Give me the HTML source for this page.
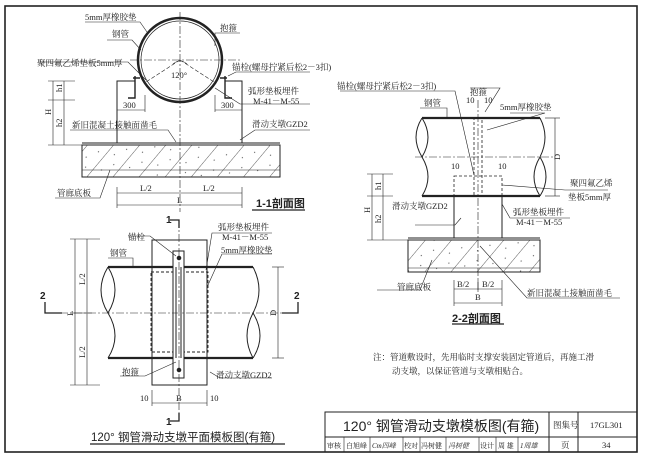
<!DOCTYPE html>
<html><head><meta charset="utf-8"><style>
html,body{margin:0;padding:0;background:#fff}
svg{display:block}
text{font-family:"Liberation Serif","Noto Serif CJK SC","Noto Sans CJK SC",serif;fill:#222}
.s{font-size:8.5px}
.t{font-family:"Liberation Sans","Noto Sans CJK SC",sans-serif;font-weight:bold}
.ti{font-family:"Liberation Sans","Noto Sans CJK SC",sans-serif}
</style></head><body>
<svg width="647" height="458" viewBox="0 0 647 458" xmlns="http://www.w3.org/2000/svg">
<defs>
<pattern id="h" width="20" height="20" patternUnits="userSpaceOnUse" patternTransform="rotate(40)">
<line x1="0" y1="0" x2="0" y2="20" stroke="#333" stroke-width="0.8"/>
<circle cx="7" cy="5" r="0.6" fill="#555"/><circle cx="13" cy="13" r="0.6" fill="#555"/>
</pattern>
</defs>
<g fill="none" stroke="#222" stroke-width="1">
<rect x="5" y="6" width="632" height="446" stroke-width="1.6"/>
<rect x="325" y="412" width="312" height="40"/>
<line x1="325" y1="437" x2="637" y2="437"/>
<line x1="549" y1="412" x2="549" y2="452"/><line x1="578" y1="412" x2="578" y2="452"/>
<g stroke-width="0.6">
<line x1="344" y1="437" x2="344" y2="452"/><line x1="370" y1="437" x2="370" y2="452"/><line x1="403" y1="437" x2="403" y2="452"/><line x1="420" y1="437" x2="420" y2="452"/><line x1="446" y1="437" x2="446" y2="452"/><line x1="479" y1="437" x2="479" y2="452"/><line x1="496" y1="437" x2="496" y2="452"/><line x1="518" y1="437" x2="518" y2="452"/>
</g>

<rect x="82" y="145" width="198" height="32" fill="url(#h)"/>
<line x1="82" y1="143" x2="280" y2="143"/><line x1="82" y1="170" x2="280" y2="170" stroke-width="0.6"/>
<polyline points="117,143 117,81 135,81"/><polyline points="225,81 242,81 242,143"/>
<circle cx="180" cy="60" r="42" stroke-width="2.5"/>
<circle cx="180" cy="60" r="39" stroke-width="0.7"/>
<line x1="180" y1="12" x2="180" y2="212" stroke-dasharray="8 2 2 2" stroke-width="0.6"/>
<line x1="130" y1="60" x2="240" y2="60" stroke-dasharray="8 2 2 2" stroke-width="0.6"/>
<line x1="180" y1="60" x2="146" y2="82" stroke-dasharray="4 2" stroke-width="0.6"/><line x1="180" y1="60" x2="214" y2="82" stroke-dasharray="4 2" stroke-width="0.6"/>
<path d="M173 64 Q180 58 187 64" stroke-width="0.6"/>
<polyline points="135,76 135,98 128,98" stroke-width="1.4"/><polyline points="225,76 225,98 232,98" stroke-width="1.4"/>
<line x1="133" y1="78" x2="140" y2="78" stroke-width="1.5"/><line x1="220" y1="78" x2="227" y2="78" stroke-width="1.5"/>
<g stroke-width="0.6">
<line x1="117" y1="110" x2="145" y2="110"/><line x1="215" y1="110" x2="242" y2="110"/>
<line x1="145" y1="95" x2="145" y2="112"/><line x1="215" y1="95" x2="215" y2="112"/>
<line x1="53" y1="81" x2="53" y2="145"/><line x1="64" y1="81" x2="64" y2="145"/>
<line x1="48" y1="81" x2="75" y2="81"/><line x1="48" y1="100" x2="75" y2="100"/><line x1="48" y1="145" x2="82" y2="145"/>
<line x1="117" y1="193" x2="242" y2="193"/><line x1="117" y1="205" x2="242" y2="205"/>
<line x1="117" y1="187" x2="117" y2="208"/><line x1="242" y1="187" x2="242" y2="208"/>
<polyline points="85,22 140,22 147,32"/><polyline points="107,40 132,40 141,50"/><polyline points="40,62 128,62 146,80"/>
<polyline points="240,33 215,33 215,46"/><polyline points="310,72 236,72 228,76"/>
<polyline points="310,104 240,104 215,88"/><polyline points="310,130 255,130 240,140"/>
<polyline points="70,130 168,130 176,142"/><polyline points="55,198 100,198 110,170"/>
<polyline points="252,210 305,210" stroke-width="1.2"/>
</g>

<rect x="408" y="240" width="132" height="32" fill="url(#h)"/>
<line x1="408" y1="238" x2="540" y2="238"/><line x1="408" y1="268" x2="540" y2="268" stroke-width="0.6"/>
<polyline points="454,238 454,196"/><polyline points="502,196 502,238"/>
<line x1="422" y1="118" x2="540" y2="118" stroke-width="2.2"/><line x1="422" y1="196" x2="540" y2="196" stroke-width="2.2"/>
<path d="M422 118 Q410 137 422 157 Q434 177 422 196" /><path d="M422 118 Q434 137 422 157"/>
<path d="M540 118 Q550 137 540 157 Q528 177 540 196"/><path d="M540 157 Q552 177 540 196"/>
<line x1="415" y1="157" x2="555" y2="157" stroke-dasharray="8 2 2 2" stroke-width="0.6"/>
<rect x="474" y="118" width="8" height="78" stroke-dasharray="3 2" stroke-width="0.8"/>
<rect x="454" y="176" width="48" height="20" stroke-dasharray="3 2" stroke-width="0.8"/>
<line x1="478" y1="100" x2="478" y2="290" stroke-dasharray="8 2 2 2" stroke-width="0.6"/>
<g stroke-width="0.6">
<line x1="555" y1="118" x2="555" y2="196"/><line x1="545" y1="118" x2="560" y2="118"/><line x1="545" y1="196" x2="560" y2="196"/>
<line x1="372" y1="174" x2="372" y2="240"/><line x1="383" y1="174" x2="383" y2="240"/>
<line x1="367" y1="174" x2="393" y2="174"/><line x1="367" y1="196" x2="393" y2="196"/><line x1="367" y1="240" x2="408" y2="240"/>
<line x1="454" y1="289" x2="502" y2="289"/><line x1="454" y1="303" x2="502" y2="303"/>
<line x1="454" y1="280" x2="454" y2="306"/><line x1="478" y1="280" x2="478" y2="292"/><line x1="502" y1="280" x2="502" y2="306"/>
<polyline points="340,91 455,91 474,175"/><polyline points="420,108 447,108 447,118"/>
<polyline points="470,88 500,88 485,112"/><polyline points="510,113 545,113 487,130"/>
<polyline points="415,225 455,225 461,218"/><polyline points="608,190 565,190 502,185"/>
<polyline points="570,218 510,218 502,204"/><polyline points="377,290 420,290 432,260"/>
<polyline points="620,298 527,298 480,246"/>
<line x1="452" y1="324" x2="504" y2="324" stroke-width="1.2"/>
</g>

<rect x="152" y="240" width="55" height="145"/>
<line x1="108" y1="267" x2="253" y2="267" stroke-width="2.2"/><line x1="108" y1="358" x2="253" y2="358" stroke-width="2.2"/>
<path d="M108 267 Q94 290 108 313 Q122 336 108 358"/><path d="M108 267 Q122 290 108 313"/>
<path d="M253 267 Q265 290 253 313 Q241 336 253 358"/><path d="M253 313 Q267 336 253 358"/>
<rect x="151" y="272" width="57" height="80" stroke-dasharray="3 2" stroke-width="0.9"/>
<rect x="173" y="251" width="11" height="127" fill="#fff" stroke-width="1"/>
<line x1="176" y1="267" x2="176" y2="358"/><line x1="181" y1="267" x2="181" y2="358"/>
<circle cx="179" cy="258" r="1.8" fill="#222"/><circle cx="179" cy="370" r="1.8" fill="#222"/>
<line x1="179" y1="220" x2="179" y2="418" stroke-dasharray="8 2 2 2" stroke-width="0.6"/>
<line x1="60" y1="313" x2="290" y2="313" stroke-dasharray="8 2 2 2" stroke-width="0.6"/>
<polyline points="170,220 179,220 179,228" stroke-width="1.3"/><polyline points="170,421 179,421 179,413" stroke-width="1.3"/>
<polyline points="45,302 45,313 62,313" stroke-width="1.3"/><polyline points="298,302 298,313 282,313" stroke-width="1.3"/>
<g stroke-width="0.6">
<line x1="75" y1="239" x2="75" y2="385"/><line x1="87" y1="239" x2="87" y2="385"/>
<line x1="70" y1="239" x2="100" y2="239"/><line x1="70" y1="313" x2="92" y2="313"/><line x1="70" y1="385" x2="100" y2="385"/>
<line x1="278" y1="267" x2="278" y2="358"/><line x1="272" y1="267" x2="284" y2="267"/><line x1="272" y1="358" x2="284" y2="358"/>
<line x1="152" y1="403" x2="207" y2="403"/><line x1="152" y1="390" x2="152" y2="406"/><line x1="207" y1="390" x2="207" y2="406"/>
<polyline points="128,236 150,236 176,256"/><polyline points="108,258 133,258 133,267"/>
<polyline points="272,233 212,233 206,270"/><polyline points="272,254 222,254 208,285"/>
<polyline points="120,376 145,376 176,362"/><polyline points="272,378 220,378 210,372"/>
<line x1="90" y1="444" x2="285" y2="444" stroke-width="1.2"/>
</g>
</g>

<text class="s" x="85" y="20">5mm厚橡胶垫</text>
<text class="s" x="112" y="37">钢管</text>
<text class="s" x="37" y="66">聚四氟乙烯垫板5mm厚</text>
<text class="s" x="220" y="31">抱箍</text>
<text class="s" x="232" y="70">锚栓(螺母拧紧后松2－3扣)</text>
<text class="s" x="171" y="78">120°</text>
<text class="s" x="248" y="94">弧形垫板埋件</text>
<text class="s" x="253" y="104">M-41－M-55</text>
<text class="s" x="123" y="108">300</text>
<text class="s" x="221" y="108">300</text>
<text class="s" x="252" y="127">滑动支墩GZD2</text>
<text class="s" x="72" y="128">新旧混凝土接触面凿毛</text>
<text class="s" x="57" y="196">管廊底板</text>
<text class="s" x="140" y="191">L/2</text>
<text class="s" x="203" y="191">L/2</text>
<text class="s" x="177" y="203">L</text>
<text class="s" transform="translate(62,92) rotate(-90)">h1</text>
<text class="s" transform="translate(62,127) rotate(-90)">h2</text>
<text class="s" transform="translate(51,115) rotate(-90)">H</text>
<text class="t" x="256" y="207" font-size="11">1-1剖面图</text>

<text class="s" x="337" y="89">锚栓(螺母拧紧后松2－3扣)</text>
<text class="s" x="470" y="95">抱箍</text>
<text class="s" x="424" y="106">钢管</text>
<text class="s" x="466" y="103">10</text><text class="s" x="484" y="103">10</text>
<text class="s" x="500" y="110">5mm厚橡胶垫</text>
<text class="s" x="451" y="169">10</text><text class="s" x="498" y="169">10</text>
<text class="s" x="570" y="186">聚四氟乙烯</text>
<text class="s" x="568" y="200">垫板5mm厚</text>
<text class="s" x="392" y="209">滑动支墩GZD2</text>
<text class="s" x="513" y="215">弧形垫板埋件</text>
<text class="s" x="516" y="225">M-41－M-55</text>
<text class="s" x="397" y="290">管廊底板</text>
<text class="s" x="457" y="287">B/2</text><text class="s" x="482" y="287">B/2</text>
<text class="s" x="475" y="300">B</text>
<text class="s" x="527" y="296">新旧混凝土接触面凿毛</text>
<text class="s" transform="translate(560,160) rotate(-90)">D</text>
<text class="s" transform="translate(381,190) rotate(-90)">h1</text>
<text class="s" transform="translate(381,223) rotate(-90)">h2</text>
<text class="s" transform="translate(370,213) rotate(-90)">H</text>
<text class="t" x="452" y="322" font-size="11">2-2剖面图</text>

<text class="t" x="166" y="223" font-size="10">1</text>
<text class="t" x="166" y="425" font-size="10">1</text>
<text class="t" x="40" y="299" font-size="10">2</text>
<text class="t" x="294" y="299" font-size="10">2</text>
<text class="s" x="128" y="240">锚栓</text>
<text class="s" x="110" y="256">钢管</text>
<text class="s" x="218" y="230">弧形垫板埋件</text>
<text class="s" x="222" y="240">M-41－M-55</text>
<text class="s" x="221" y="253">5mm厚橡胶垫</text>
<text class="s" x="122" y="375">抱箍</text>
<text class="s" x="216" y="378">滑动支墩GZD2</text>
<text class="s" x="140" y="401">10</text><text class="s" x="176" y="401">B</text><text class="s" x="210" y="401">10</text>
<text class="s" transform="translate(85,285) rotate(-90)">L/2</text>
<text class="s" transform="translate(85,358) rotate(-90)">L/2</text>
<text class="s" transform="translate(73,316) rotate(-90)">L</text>
<text class="s" transform="translate(276,316) rotate(-90)">D</text>
<text class="ti" x="91" y="441" font-size="11.5">120°  钢管滑动支墩平面模板图(有箍)</text>

<text class="s" x="373" y="360">注：管道敷设时，先用临时支撑安装固定管道后，再施工滑</text>
<text class="s" x="392" y="374">动支墩，以保证管道与支墩相贴合。</text>

<text class="ti" x="343" y="431" font-size="14">120°  钢管滑动支墩模板图(有箍)</text>
<text class="s" x="553" y="428">图集号</text>
<text class="s" x="590" y="428">17GL301</text>
<text x="327" y="448" font-size="7">审核</text><text x="346" y="448" font-size="7">白旭峰</text>
<text x="372" y="448" font-size="7" font-style="italic">Cm四峰</text>
<text x="404" y="448" font-size="7">校对</text><text x="421" y="448" font-size="7">冯树健</text>
<text x="448" y="448" font-size="7" font-style="italic">冯树健</text>
<text x="480" y="448" font-size="7">设计</text><text x="498" y="448" font-size="7">周 雄</text>
<text x="520" y="448" font-size="7" font-style="italic">1周雄</text>
<text class="s" x="561" y="448">页</text>
<text class="s" x="602" y="448">34</text>
</svg>
</body></html>
